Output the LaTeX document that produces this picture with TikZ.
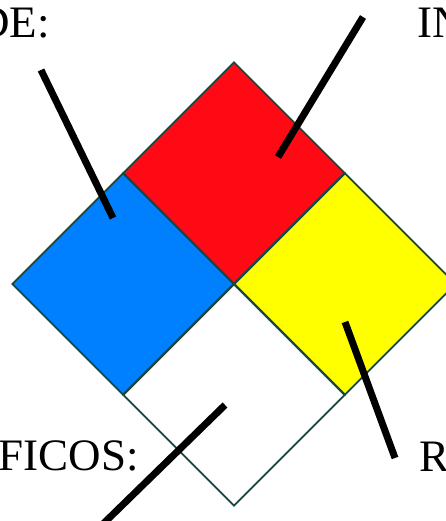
\documentclass[tikz,border=0pt]{standalone}
\usepackage{fontspec}
\setmainfont{Liberation Serif}
\usepackage{xcolor}
\usetikzlibrary{positioning,shapes.geometric}
\definecolor{nfpablue}{RGB}{0,128,255}
\definecolor{nfpared}{RGB}{255,10,20}
\definecolor{nfpayellow}{RGB}{255,255,0}
\definecolor{nfpaedge}{RGB}{25,70,65}

\begin{document}
\begin{tikzpicture}[
  x=1pt, y=-1pt,
  quad/.style={diamond, aspect=1, inner sep=0pt, minimum width=222pt, minimum height=222pt, draw=nfpaedge, line width=1.8pt},
  lead/.style={line width=7pt, black},
  tag/.style={font=\fontsize{45}{54}\selectfont, inner sep=0pt}
]
\useasboundingbox (0,0) rectangle (446,521);
\clip (0,0) rectangle (446,521);
\node[quad, fill=nfpablue] (salud) at (123,284) {};
\node[quad, fill=nfpared] (inflam) at (234,173) {};
\node[quad, fill=nfpayellow] (reac) at (345,284) {};
\node[quad, fill=white] (espec) at (234,395) {};
\node[tag, anchor=base east] (tsalud) at (50,38) {DE:};
\node[tag, anchor=base west] (tinflam) at (417,38) {IN};
\node[tag, anchor=base east] (tespec) at (139,470) {FICOS:};
\node[tag, anchor=base west] (treac) at (419,471) {R};
\coordinate (s1) at (41,70);
\coordinate (s2) at (113,218);
\coordinate (i1) at (363,17);
\coordinate (i2) at (278,157);
\coordinate (r1) at (345,322);
\coordinate (r2) at (395,458);
\coordinate (e1) at (225,405);
\coordinate (e2) at (103,524);
\draw[lead] (s1) -- (s2);
\draw[lead] (i1) -- (i2);
\draw[lead] (r1) -- (r2);
\draw[lead] (e1) -- (e2);
\end{tikzpicture}
\end{document}
